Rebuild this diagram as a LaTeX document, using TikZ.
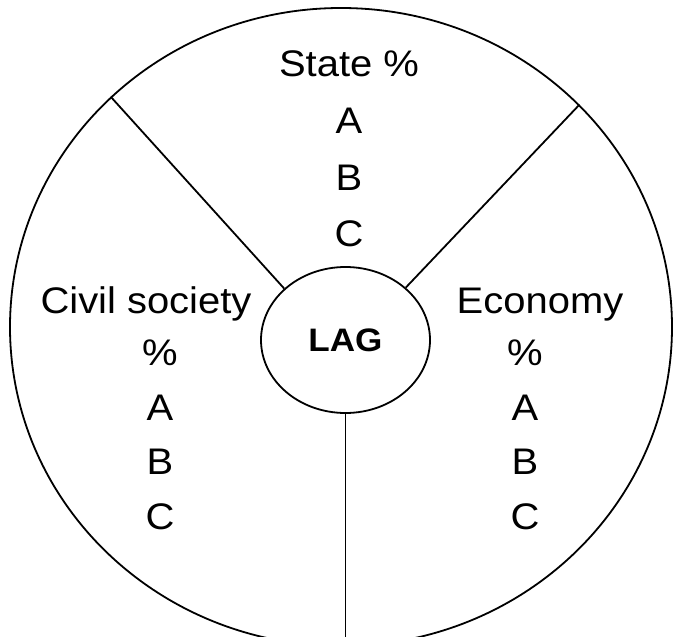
\documentclass[tikz,border=0pt]{standalone}
\usepackage{fontspec}
\setmainfont[FakeStretch=1.08]{Liberation Sans}
\usetikzlibrary{shapes.geometric}
\tikzset{
  rim/.style   = {draw, ellipse, line width=1.8pt, inner sep=0pt},
  hub/.style   = {rim, minimum width=169pt, minimum height=146pt,
                  font=\fontsize{32.5}{40}\selectfont\bfseries},
  head/.style  = {inner sep=0pt, anchor=base, font=\fontsize{37}{44}\selectfont},
  items/.style = {inner sep=0pt, anchor=north, align=center,
                  font=\fontsize{37}{56.5}\selectfont},
  sideitems/.style = {items, font=\fontsize{37}{54.5}\selectfont},
  spoke/.style = {line width=1.8pt},
}

\begin{document}
\begin{tikzpicture}[x=1pt,y=1pt]
  \useasboundingbox (0,0) rectangle (673,-637);
  \clip (0,0) rectangle (673,-637);
  % ---- wheel ----
  \node[rim, minimum width=662pt, minimum height=638pt] (outer) at (341,-327) {};
  \node[hub] (lag) at (345.5,-340) {LAG};
  % ---- spokes ----
  \draw[spoke] (lag.140.2) -- (outer.135.9);
  \draw[spoke] (lag.41.6) -- (outer.43.3);
  \draw[spoke] (lag.south) -- (lag.south |- outer.south);
  % ---- sectors ----
  \node[head] (state) at (349,-76) {State \%};
  \node[items] (statelist) at (349,-108) {A\\B\\C};
  \node[head] (civil) at (146,-313) {Civil society};
  \node[sideitems] (civillist) at (160,-340) {\%\\A\\B\\C};
  \node[head] (economy) at (540,-313) {Economy};
  \node[sideitems] (economylist) at (525,-340) {\%\\A\\B\\C};
\end{tikzpicture}
\end{document}
